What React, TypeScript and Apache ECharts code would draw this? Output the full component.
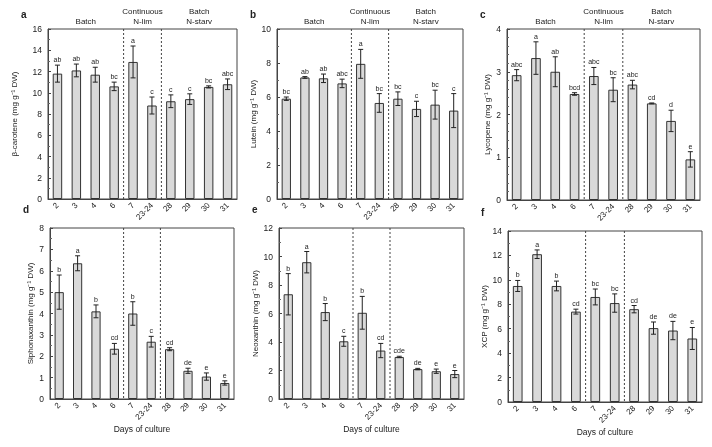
import React, { useEffect, useRef } from 'react';
import * as echarts from 'echarts';

const categories = ['2', '3', '4', '6', '7', '23-24', '28', '29', '30', '31'];

const betaCarotene = [11.8, 12.1, 11.7, 10.6, 12.9, 8.8, 9.2, 9.4, 10.55, 10.8];
const betaCaroteneErr = [0.8, 0.6, 0.7, 0.4, 1.5, 0.8, 0.6, 0.5, 0.1, 0.5];
const betaCaroteneLetters = ['ab', 'ab', 'ab', 'bc', 'a', 'c', 'c', 'c', 'bc', 'abc'];

const lutein = [5.9, 7.15, 7.1, 6.8, 7.95, 5.65, 5.9, 5.3, 5.55, 5.2];
const luteinErr = [0.1, 0.05, 0.25, 0.25, 0.85, 0.55, 0.4, 0.45, 0.85, 1.0];
const luteinLetters = ['bc', 'ab', 'ab', 'abc', 'a', 'bc', 'bc', 'c', 'bc', 'c'];

const lycopene = [2.92, 3.32, 3.0, 2.48, 2.9, 2.58, 2.7, 2.26, 1.85, 0.95];
const lycopeneErr = [0.13, 0.38, 0.35, 0.03, 0.2, 0.28, 0.1, 0.01, 0.25, 0.18];
const lycopeneLetters = ['abc', 'a', 'ab', 'bcd', 'abc', 'bc', 'abc', 'cd', 'd', 'e'];

const siphonaxanthin = [5.0, 6.35, 4.1, 2.35, 4.0, 2.68, 2.33, 1.32, 1.05, 0.75];
const siphonaxanthinErr = [0.8, 0.35, 0.3, 0.25, 0.55, 0.25, 0.07, 0.12, 0.17, 0.1];
const siphonaxanthinLetters = ['b', 'a', 'b', 'cd', 'b', 'c', 'cd', 'de', 'e', 'e'];

const neoxanthin = [7.35, 9.6, 6.1, 4.05, 6.05, 3.4, 2.95, 2.1, 1.95, 1.75];
const neoxanthinErr = [1.45, 0.75, 0.6, 0.35, 1.15, 0.5, 0.05, 0.05, 0.15, 0.25];
const neoxanthinLetters = ['b', 'a', 'b', 'c', 'b', 'cd', 'cde', 'de', 'e', 'e'];

const xcp = [9.5, 12.1, 9.5, 7.4, 8.6, 8.1, 7.6, 6.05, 5.85, 5.2];
const xcpErr = [0.45, 0.35, 0.4, 0.2, 0.65, 0.75, 0.3, 0.5, 0.75, 0.9];
const xcpLetters = ['b', 'a', 'b', 'cd', 'bc', 'bc', 'cd', 'de', 'de', 'e'];

const groupLabels = ['Batch', 'Continuous\nN-lim', 'Batch\nN-starv'];
const groupRanges = [[0, 3], [4, 5], [6, 9]];
const separators = [3, 5];

const FONT = "'Liberation Sans', Arial, sans-serif";

type Panel = {
  letter: string;
  name: string;
  max: number;
  interval: number;
  minorSplit: number;
  nameGap: number;
  grid: { left: number; top: number; width: number; height: number };
  values: number[];
  errs: number[];
  letters: string[];
  topRow: boolean;
};

const panels: Panel[] = [
  { letter: 'a', name: 'β-carotene (mg g⁻¹ DW)', max: 16, interval: 2, minorSplit: 2, nameGap: 30, grid: { left: 48, top: 29, width: 189, height: 170 }, values: betaCarotene, errs: betaCaroteneErr, letters: betaCaroteneLetters, topRow: true },
  { letter: 'b', name: 'Lutein (mg g⁻¹ DW)', max: 10, interval: 2, minorSplit: 2, nameGap: 16, grid: { left: 277, top: 29, width: 186, height: 170 }, values: lutein, errs: luteinErr, letters: luteinLetters, topRow: true },
  { letter: 'c', name: 'Lycopene (mg g⁻¹ DW)', max: 4, interval: 1, minorSplit: 5, nameGap: 16, grid: { left: 507, top: 29, width: 193, height: 171 }, values: lycopene, errs: lycopeneErr, letters: lycopeneLetters, topRow: true },
  { letter: 'd', name: 'Siphonaxanthin (mg g⁻¹ DW)', max: 8, interval: 1, minorSplit: 2, nameGap: 16, grid: { left: 50, top: 228, width: 184, height: 171 }, values: siphonaxanthin, errs: siphonaxanthinErr, letters: siphonaxanthinLetters, topRow: false },
  { letter: 'e', name: 'Neoxanthin (mg g⁻¹ DW)', max: 12, interval: 2, minorSplit: 2, nameGap: 18, grid: { left: 279, top: 228, width: 185, height: 171 }, values: neoxanthin, errs: neoxanthinErr, letters: neoxanthinLetters, topRow: false },
  { letter: 'f', name: 'XCP (mg g⁻¹ DW)', max: 14, interval: 2, minorSplit: 2, nameGap: 20, grid: { left: 508, top: 231, width: 194, height: 171 }, values: xcp, errs: xcpErr, letters: xcpLetters, topRow: false },
];

function buildOption() {
  const grid: any[] = [];
  const xAxis: any[] = [];
  const yAxis: any[] = [];
  const series: any[] = [];
  const graphic: any[] = [];

  panels.forEach((p, i) => {
    grid.push({ ...p.grid, show: true, borderColor: '#444', borderWidth: 1, backgroundColor: 'transparent' });
    xAxis.push({
      type: 'category',
      gridIndex: i,
      data: categories,
      axisLine: { lineStyle: { color: '#444' } },
      axisTick: { show: false },
      axisLabel: { rotate: 45, interval: 0, fontSize: 8, color: '#222', fontFamily: FONT, margin: 5 },
      name: p.topRow ? '' : 'Days of culture',
      nameLocation: 'middle',
      nameGap: 23,
      nameTextStyle: { fontSize: 8.5, color: '#222', fontFamily: FONT },
    });
    yAxis.push({
      type: 'value',
      gridIndex: i,
      min: 0,
      max: p.max,
      interval: p.interval,
      splitLine: { show: false },
      axisLine: { show: true, lineStyle: { color: '#444' } },
      axisTick: { show: true, inside: true, length: 3, lineStyle: { color: '#444' } },
      minorTick: { show: true, splitNumber: p.minorSplit, length: 2, lineStyle: { color: '#666' } },
      axisLabel: { fontSize: 8.5, color: '#222', fontFamily: FONT, margin: 6 },
      name: p.name,
      nameLocation: 'middle',
      nameRotate: 90,
      nameGap: p.nameGap,
      nameTextStyle: { fontSize: 8, color: '#222', fontFamily: FONT },
    });
    series.push({
      type: 'bar',
      xAxisIndex: i,
      yAxisIndex: i,
      data: p.values,
      barWidth: '50%',
      itemStyle: { color: '#d9d9d9', borderColor: '#333', borderWidth: 1 },
      silent: true,
    });
    series.push({
      type: 'custom',
      xAxisIndex: i,
      yAxisIndex: i,
      z: 5,
      encode: { x: 0, y: 1 },
      data: p.values.map((v, k) => [k, v, p.errs[k]]),
      renderItem: (params: any, api: any) => {
        const k = api.value(0);
        const v = api.value(1);
        const e = api.value(2);
        const hi = api.coord([k, v + e]);
        const lo = api.coord([k, v - e]);
        const cap = 2.5;
        const ls = { stroke: '#222', lineWidth: 1 };
        const children: any[] = [
          { type: 'line', shape: { x1: hi[0], y1: hi[1], x2: lo[0], y2: lo[1] }, style: ls },
          { type: 'line', shape: { x1: hi[0] - cap, y1: hi[1], x2: hi[0] + cap, y2: hi[1] }, style: ls },
          { type: 'line', shape: { x1: lo[0] - cap, y1: lo[1], x2: lo[0] + cap, y2: lo[1] }, style: ls },
          {
            type: 'text',
            style: {
              text: p.letters[params.dataIndex], x: hi[0], y: hi[1] - 2,
              align: 'center', verticalAlign: 'bottom', fontSize: 7, fill: '#222', fontFamily: FONT,
            },
          },
        ];
        if (params.dataIndex === 0) {
          const cs = params.coordSys;
          const bw = api.size([1, 0])[0];
          separators.forEach((s) => {
            const x = api.coord([s, 0])[0] + bw / 2;
            children.push({
              type: 'line',
              shape: { x1: x, y1: cs.y, x2: x, y2: cs.y + cs.height },
              style: { stroke: '#444', lineWidth: 1, lineDash: [2, 2] },
            });
          });
          if (p.topRow) {
            groupRanges.forEach((r, gi) => {
              const x = (api.coord([r[0], 0])[0] + api.coord([r[1], 0])[0]) / 2;
              children.push({
                type: 'text',
                style: {
                  text: groupLabels[gi], x, y: cs.y - 3,
                  align: 'center', verticalAlign: 'bottom', fontSize: 8, lineHeight: 10, fill: '#222', fontFamily: FONT,
                },
              });
            });
          }
        }
        return { type: 'group', children };
      },
    });
    graphic.push({
      type: 'text',
      left: p.grid.left - 27,
      top: p.grid.top - (p.topRow ? 20 : 24),
      style: { text: p.letter, fontSize: 10, fontWeight: 'bold', fill: '#222', fontFamily: FONT },
    });
  });

  return { animation: false, backgroundColor: '#fff', grid, xAxis, yAxis, series, graphic };
}

export default function App() {
  const ref = useRef<HTMLDivElement>(null);
  useEffect(() => {
    document.body.style.margin = '0';
    const chart = echarts.init(ref.current!, undefined, { renderer: 'svg' });
    chart.setOption(buildOption() as any);
    return () => chart.dispose();
  }, []);
  return <div ref={ref} style={{ width: 712, height: 447, filter: 'grayscale(1)' }} />;
}
